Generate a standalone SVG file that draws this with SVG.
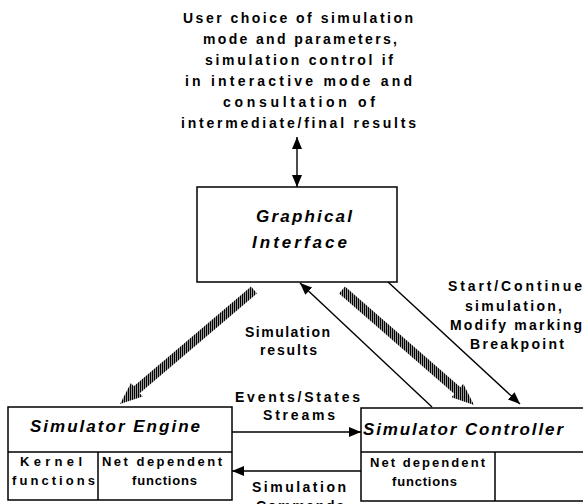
<svg xmlns="http://www.w3.org/2000/svg" width="583" height="504" viewBox="0 0 583 504">
<style>
.t{font-family:"Liberation Sans",Arial,sans-serif;font-weight:bold;font-size:14px;fill:#000}
.s{font-family:"Liberation Sans",Arial,sans-serif;font-weight:bold;font-size:13px;fill:#000}
.h{font-family:"Liberation Sans",Arial,sans-serif;font-weight:bold;font-style:italic;font-size:17px;fill:#000}
.box{fill:#fff;stroke:#000;stroke-width:1.5}
.ln{fill:none;stroke:#000;stroke-width:1.5}
.ar{fill:none;stroke:#000;stroke-width:1.4}
</style>
<defs>
<marker id="ah" markerUnits="userSpaceOnUse" markerWidth="13" markerHeight="10" refX="12" refY="5" orient="auto-start-reverse">
<path d="M0,0 L12,5 L0,10 z" fill="#000"/>
</marker>
<pattern id="hatch" width="2" height="4" patternUnits="userSpaceOnUse">
<rect width="1.4" height="4" fill="#000"/>
</pattern>
</defs>
<rect width="583" height="504" fill="#fff"/>
<g id="user-text">
<text class="t" x="183" y="23" textLength="230" lengthAdjust="spacing">User choice of simulation</text>
<text class="t" x="203" y="44" textLength="194" lengthAdjust="spacing">mode and parameters,</text>
<text class="t" x="205" y="65" textLength="188" lengthAdjust="spacing">simulation control if</text>
<text class="t" x="185" y="86" textLength="227" lengthAdjust="spacing">in interactive mode and</text>
<text class="t" x="223" y="107" textLength="152" lengthAdjust="spacing">consultation of</text>
<text class="t" x="181" y="128" textLength="235" lengthAdjust="spacing">intermediate/final  results</text>
</g>
<g id="graphical-interface">
<rect class="box" x="197" y="187" width="200" height="95"/>
<text class="h" x="256" y="222" textLength="96" lengthAdjust="spacing">Graphical</text>
<text class="h" x="252" y="248" textLength="95" lengthAdjust="spacing">Interface</text>
</g>
<g id="simulator-engine">
<rect class="box" x="8" y="407" width="224" height="93"/>
<path class="ln" d="M8,452 H232 M98,452 V500"/>
<text class="h" x="30" y="432" textLength="170" lengthAdjust="spacing">Simulator  Engine</text>
<text class="s" x="20" y="466" textLength="62" lengthAdjust="spacing">Kernel</text>
<text class="s" x="12" y="485" textLength="83" lengthAdjust="spacing">functions</text>
<text class="s" x="102" y="466" textLength="120" lengthAdjust="spacing">Net dependent</text>
<text class="s" x="132" y="485" textLength="65" lengthAdjust="spacing">functions</text>
</g>
<g id="simulator-controller">
<path class="ln" d="M584,408 H361 V501 H584 M361,452 H584 M495,452 V501"/>
<text class="h" x="363" y="435" textLength="200" lengthAdjust="spacing">Simulator  Controller</text>
<text class="s" x="370" y="467" textLength="115" lengthAdjust="spacing">Net dependent</text>
<text class="s" x="392" y="486" textLength="65" lengthAdjust="spacing">functions</text>
</g>
<g id="connectors">
<line class="ar" x1="297" y1="137" x2="297" y2="187" marker-start="url(#ah)" marker-end="url(#ah)"/>
<polygon fill="url(#hatch)" points="251.1,286.6 133.8,386.3 130.9,382.9 120,404 142.6,396.6 139.7,393.2 256.9,293.4"/>
<polygon fill="url(#hatch)" points="345.0,286.6 460.4,387.2 463.3,383.8 474,405 451.5,397.3 454.4,393.9 339.0,293.4"/>
<line class="ar" x1="432" y1="407" x2="300" y2="283" marker-end="url(#ah)"/>
<line class="ar" x1="388" y1="282" x2="520" y2="404" marker-end="url(#ah)"/>
<line class="ar" x1="232" y1="432" x2="361" y2="432" marker-end="url(#ah)"/>
<line class="ar" x1="361" y1="471" x2="232" y2="471" marker-end="url(#ah)"/>
<text class="t" x="245" y="337" textLength="85" lengthAdjust="spacing">Simulation</text>
<text class="t" x="260" y="355" textLength="57" lengthAdjust="spacing">results</text>
<text class="t" x="235" y="402" textLength="125" lengthAdjust="spacing">Events/States</text>
<text class="t" x="263" y="420" textLength="72" lengthAdjust="spacing">Streams</text>
<text class="t" x="252" y="492" textLength="94" lengthAdjust="spacing">Simulation</text>
<text class="t" x="256" y="511" textLength="88" lengthAdjust="spacing">Commands</text>
<text class="t" x="448" y="291" textLength="134" lengthAdjust="spacing">Start/Continue</text>
<text class="t" x="465" y="311" textLength="97" lengthAdjust="spacing">simulation,</text>
<text class="t" x="450" y="330" textLength="132" lengthAdjust="spacing">Modify  marking</text>
<text class="t" x="470" y="349" textLength="94" lengthAdjust="spacing">Breakpoint</text>
</g>
</svg>
